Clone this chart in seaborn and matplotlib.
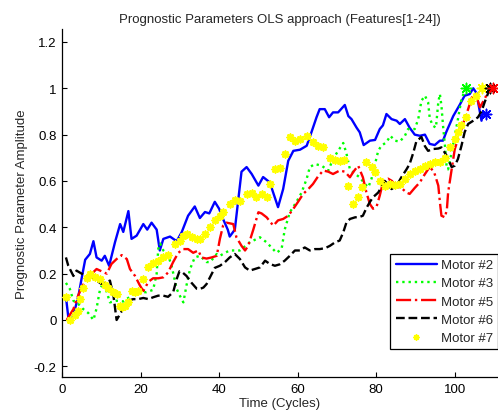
import matplotlib
matplotlib.use("Agg")
import matplotlib.pyplot as plt
import seaborn as sns

sns.set_style("ticks")
plt.rcParams['font.family'] = ['Liberation Sans', 'DejaVu Sans']

title = "Prognostic Parameters OLS approach (Features[1-24])"
xlabel = "Time (Cycles)"
ylabel = "Prognostic Parameter Amplitude"
labels = ["Motor #2", "Motor #3", "Motor #5", "Motor #6", "Motor #7"]

m2_x = [1, 1.6, 2.5, 3.3, 4.2, 5, 5.9, 7.1, 8, 8.8, 10.1, 10.9, 12, 13.5, 14.8, 15.6, 16.9, 17.7, 19, 20.7,
        21.7, 22.8, 24.1, 24.9, 25.8, 27.5, 29.2, 30.5, 32.1, 33.8, 35.1, 36.4, 37.5, 38.9, 40, 41, 42.2, 42.7,
        44, 45.7, 47, 48.3, 50, 51.2, 52.9, 55, 56.3, 57.6, 58.9, 60.6, 62.3, 63.5, 64.8, 65.6, 66.9, 68, 69,
        70.3, 72, 72.9, 73.7, 75, 75.8, 76.8, 78.4, 79.7, 80.9, 81.7, 82.6, 83.9, 85.2, 86, 87.3, 88.5, 89.8,
        91.1, 92.4, 93.6, 94.9, 96.2, 97, 97.8, 99.6, 101.3, 102.5, 103.8, 104.7, 105.5, 106.8, 107.2, 108]
m2_y = [0.10, 0.013, 0.0, 0.047, 0.105, 0.18, 0.26, 0.285, 0.34, 0.27, 0.256, 0.277, 0.234, 0.336, 0.414, 0.38,
        0.47, 0.35, 0.364, 0.414, 0.39, 0.42, 0.39, 0.30, 0.35, 0.36, 0.34, 0.38, 0.45, 0.49, 0.44, 0.466, 0.46,
        0.51, 0.48, 0.436, 0.39, 0.36, 0.39, 0.64, 0.66, 0.63, 0.58, 0.617, 0.594, 0.487, 0.565, 0.687, 0.73,
        0.735, 0.752, 0.81, 0.875, 0.91, 0.91, 0.875, 0.896, 0.896, 0.928, 0.88, 0.867, 0.83, 0.81, 0.755,
        0.774, 0.777, 0.824, 0.84, 0.889, 0.867, 0.86, 0.846, 0.867, 0.83, 0.80, 0.795, 0.80, 0.76, 0.755,
        0.774, 0.774, 0.81, 0.88, 0.93, 0.968, 0.975, 1.0, 0.98, 0.86, 0.896, 0.89]

m3_x = [1, 2, 2.9, 4.1, 5.4, 6.7, 8, 8.8, 9.7, 10.5, 11.4, 12.2, 13.9, 15.6, 17.7, 19.4, 21.5, 23.2, 24.1, 24.5,
        25, 25.8, 27, 27.9, 29.2, 30, 30.9, 31.7, 32.6, 33.8, 35.1, 36.8, 37.7, 39.4, 40.2, 41.5, 42.7, 45.3,
        47.8, 50.4, 52.1, 54.6, 55.9, 56.7, 58, 59.7, 61, 62.3, 63.1, 64.4, 66.1, 67.8, 69, 70.3, 71.6, 72.4,
        73.3, 74.6, 75.8, 77.1, 78, 78.8, 79.6, 80.5, 81.3, 82.6, 83.6, 84.7, 86, 87.3, 88.1, 89.8, 90.7, 91.5,
        92.4, 93.2, 93.6, 94.3, 95.2, 95.8, 96.2, 96.6, 97, 97.5, 97.9, 98.3, 99.2, 100, 100.8, 101.7, 102.8]
m3_y = [0.16, 0.134, 0.083, 0.07, 0.047, 0.03, 0.0, 0.05, 0.134, 0.16, 0.12, 0.076, 0.083, 0.08, 0.105, 0.12,
        0.12, 0.13, 0.2, 0.306, 0.33, 0.30, 0.28, 0.234, 0.134, 0.105, 0.076, 0.15, 0.22, 0.27, 0.277, 0.25,
        0.25, 0.285, 0.277, 0.29, 0.30, 0.30, 0.335, 0.357, 0.335, 0.29, 0.306, 0.39, 0.465, 0.51, 0.55, 0.61,
        0.66, 0.673, 0.666, 0.645, 0.695, 0.73, 0.764, 0.72, 0.65, 0.63, 0.616, 0.587, 0.573, 0.61, 0.666,
        0.73, 0.752, 0.767, 0.795, 0.774, 0.77, 0.795, 0.824, 0.824, 0.867, 0.946, 0.968, 0.94, 0.875, 0.84,
        0.83, 0.94, 0.975, 0.925, 0.84, 0.752, 0.666, 0.65, 0.724, 0.795, 0.867, 0.954, 1.0]

m5_x = [1.2, 2.9, 4.1, 5, 6.3, 7.6, 8.8, 10.1, 11.4, 12.6, 13.9, 15.2, 16.5, 17.3, 18.6, 19.8, 20.7, 22, 23.2,
        24.5, 25.8, 27, 28.3, 29.6, 30.9, 32.1, 33.4, 34.7, 35.5, 36.8, 38.1, 39.4, 40.2, 41, 41.9, 43.6, 44.4,
        45.7, 46.6, 47.4, 48.7, 50, 50.8, 52.1, 53.8, 55, 56.3, 57.6, 58.9, 60.1, 61.4, 62.7, 63.9, 65.2, 66.5,
        67.8, 69, 70.7, 72, 73.3, 74.2, 75.4, 76.6, 77.5, 78.4, 79.2, 80.1, 80.9, 81.8, 83, 84, 85.2, 86.4,
        87.7, 88.5, 89.8, 91.1, 92.4, 93.6, 94.7, 95.8, 96.2, 96.6, 97.5, 98, 98.3, 99.2, 100, 100.8, 101.7,
        102.5, 103.4, 104.2, 104.7, 105.5, 106.4, 107.6, 108.9, 109.7]
m5_y = [0.0, 0.047, 0.105, 0.14, 0.18, 0.2, 0.22, 0.21, 0.2, 0.242, 0.263, 0.28, 0.263, 0.22, 0.19, 0.15,
        0.125, 0.165, 0.18, 0.18, 0.184, 0.205, 0.25, 0.29, 0.306, 0.306, 0.29, 0.30, 0.27, 0.265, 0.27,
        0.277, 0.35, 0.407, 0.42, 0.414, 0.357, 0.32, 0.30, 0.32, 0.39, 0.465, 0.46, 0.443, 0.407, 0.43,
        0.436, 0.45, 0.48, 0.51, 0.544, 0.565, 0.587, 0.62, 0.645, 0.64, 0.63, 0.645, 0.64, 0.616, 0.64,
        0.666, 0.616, 0.55, 0.50, 0.48, 0.49, 0.537, 0.60, 0.61, 0.60, 0.575, 0.57, 0.55, 0.544, 0.57,
        0.594, 0.63, 0.66, 0.64, 0.58, 0.51, 0.45, 0.443, 0.48, 0.55, 0.65, 0.738, 0.78, 0.824, 0.867, 0.91,
        0.954, 0.975, 0.965, 0.918, 0.954, 1.0, 1.0]

m6_x = [1, 1.6, 2.9, 3.7, 5, 6.3, 7.6, 8.8, 10.1, 11.4, 12.2, 13.1, 13.9, 14.8, 15.6, 16.9, 18.1, 19.4, 20.7,
        22, 23.2, 24.5, 25.8, 27, 28.3, 29.2, 29.9, 30.7, 31.7, 33, 34.3, 35.1, 36, 36.8, 37.7, 38.9, 40.2,
        41.5, 42.7, 44, 45.3, 46.6, 47.8, 49.1, 50.4, 51.7, 52.9, 54.2, 55.4, 56.7, 58, 59.3, 60.6, 61.8,
        63.1, 64.4, 65.6, 67, 68.2, 69.5, 70.7, 71.6, 72.4, 73.3, 74.6, 75.8, 76.6, 77.5, 78.4, 79.2, 80.5,
        81.3, 82.2, 83, 83.9, 85.2, 86.4, 87.7, 88.5, 89.4, 90.2, 91.5, 92.4, 93.2, 94.5, 95.8, 96.6, 97.9,
        99.2, 100, 100.8, 101.7, 102.5, 103.4, 104.7, 105.9, 106.8, 107.6, 108.5, 108.9]
m6_y = [0.27, 0.234, 0.19, 0.213, 0.2, 0.19, 0.184, 0.17, 0.155, 0.163, 0.17, 0.105, 0.0, 0.026, 0.05, 0.083,
        0.09, 0.09, 0.095, 0.09, 0.098, 0.105, 0.105, 0.10, 0.12, 0.177, 0.21, 0.205, 0.19, 0.16, 0.135, 0.134,
        0.14, 0.155, 0.185, 0.225, 0.234, 0.25, 0.27, 0.285, 0.263, 0.227, 0.213, 0.22, 0.227, 0.256, 0.242,
        0.234, 0.24, 0.256, 0.277, 0.30, 0.30, 0.313, 0.30, 0.306, 0.306, 0.31, 0.32, 0.335, 0.343, 0.378,
        0.42, 0.436, 0.443, 0.445, 0.45, 0.483, 0.51, 0.53, 0.55, 0.573, 0.60, 0.585, 0.565, 0.58, 0.616,
        0.65, 0.673, 0.72, 0.77, 0.79, 0.75, 0.73, 0.738, 0.74, 0.745, 0.71, 0.66, 0.666, 0.695, 0.752, 0.81,
        0.846, 0.86, 0.875, 0.90, 0.94, 0.98, 1.0]

m7_x = [1, 2, 3.3, 4.1, 4.6, 5.4, 6.3, 7.1, 8.4, 9.7, 10.9, 11.8, 13.1, 13.9, 14.8, 15.2, 16, 16.9, 17.7, 18.6,
        19.4, 20.7, 22, 23.2, 24.5, 25.8, 27, 28.8, 30, 30.9, 31.7, 33, 34.3, 35.1, 36.4, 37.7, 38.9, 40.2, 41,
        42.7, 44, 45.3, 47, 48.3, 49.5, 50.8, 52.1, 52.9, 54.2, 55.4, 56.7, 58, 59.3, 60.6, 62.3, 63.9, 65.2,
        66.5, 68.2, 69.5, 70.7, 71.8, 72.9, 74.1, 75.4, 76.3, 77.5, 78.8, 79.6, 80.9, 82.2, 83.4, 84.7, 86,
        87.3, 88.5, 89.8, 91.1, 92.4, 93.6, 94.9, 96.2, 97.5, 98.7, 100, 100.8, 101.7, 102.9, 104.2, 105.5,
        106.8]
m7_y = [0.10, 0.0, 0.02, 0.04, 0.09, 0.14, 0.18, 0.20, 0.184, 0.177, 0.15, 0.14, 0.12, 0.11, 0.062, 0.055,
        0.062, 0.076, 0.126, 0.12, 0.126, 0.177, 0.23, 0.245, 0.256, 0.27, 0.28, 0.33, 0.343, 0.364, 0.37,
        0.36, 0.35, 0.35, 0.37, 0.40, 0.43, 0.45, 0.465, 0.50, 0.52, 0.515, 0.544, 0.55, 0.53, 0.544, 0.53,
        0.587, 0.65, 0.655, 0.716, 0.788, 0.774, 0.78, 0.795, 0.767, 0.752, 0.745, 0.70, 0.69, 0.687, 0.69,
        0.58, 0.50, 0.53, 0.573, 0.68, 0.66, 0.64, 0.60, 0.58, 0.585, 0.583, 0.587, 0.61, 0.63, 0.645, 0.65,
        0.666, 0.673, 0.68, 0.68, 0.70, 0.745, 0.78, 0.81, 0.84, 0.875, 0.946, 0.968, 1.0]

xticks = [0, 20, 40, 60, 80, 100]
yticks = [-0.2, 0, 0.2, 0.4, 0.6, 0.8, 1, 1.2]
yticklabels = ["-0.2", "0", "0.2", "0.4", "0.6", "0.8", "1", "1.2"]

FS = 9.5
ast = (8, 2, 0)

fig = plt.figure(figsize=(4.98, 4.14), dpi=100)
ax = fig.add_axes([0.1245, 0.087, 0.8755, 0.8406])

series = [
    (m2_x, m2_y, "#0000ff", "-"),
    (m3_x, m3_y, "#00ff00", ":"),
    (m5_x, m5_y, "#ff0000", "-."),
    (m6_x, m6_y, "#000000", "--"),
]
for (xs, ys, c, ls), lab in zip(series, labels[:4]):
    sns.lineplot(x=xs, y=ys, ax=ax, color=c, linestyle=ls, linewidth=1.7,
                 sort=False, estimator=None, label=lab)

sns.scatterplot(x=m7_x, y=m7_y, ax=ax, color="#ffff00", marker=ast, s=22,
                linewidth=1.3, edgecolor="#ffff00", label=labels[4], zorder=3)

# end-point asterisk markers
for xs, ys, c in [(m2_x, m2_y, "#0000ff"), (m3_x, m3_y, "#00ff00"), (m7_x, m7_y, "#ffff00"),
                  (m6_x, m6_y, "#000000"), (m5_x, m5_y, "#ff0000")]:
    sns.scatterplot(x=[xs[-1]], y=[ys[-1]], ax=ax, color=c, marker=ast, s=55,
                    linewidth=1.1, edgecolor=c, legend=False, zorder=4)

ax.set_xlim(0, 111)
ax.set_ylim(-0.246, 1.256)
ax.set_xticks(xticks)
ax.set_xticklabels([str(t) for t in xticks])
ax.set_yticks(yticks)
ax.set_yticklabels(yticklabels)
ax.tick_params(direction="in", length=3.5, width=0.8, labelsize=FS, pad=4, colors="black")
for s in ["top", "right"]:
    ax.spines[s].set_visible(False)
for s in ["left", "bottom"]:
    ax.spines[s].set_linewidth(0.9)
    ax.spines[s].set_color("black")

ax.set_title(title, fontsize=FS, pad=5)
ax.set_xlabel(xlabel, fontsize=FS, labelpad=2)
ax.set_ylabel(ylabel, fontsize=FS, labelpad=4)

leg = ax.legend(loc="lower right", bbox_to_anchor=(1.0, 0.08), fontsize=FS, frameon=True,
                fancybox=False, edgecolor="black", framealpha=1, handlelength=3.1,
                handletextpad=0.3, borderaxespad=0, labelspacing=0.45, borderpad=0.4)
leg.get_frame().set_linewidth(0.9)
for h in leg.legend_handles[4:]:
    try:
        h.set_sizes([12])
    except Exception:
        pass

fig.savefig("out.png", dpi=100)
